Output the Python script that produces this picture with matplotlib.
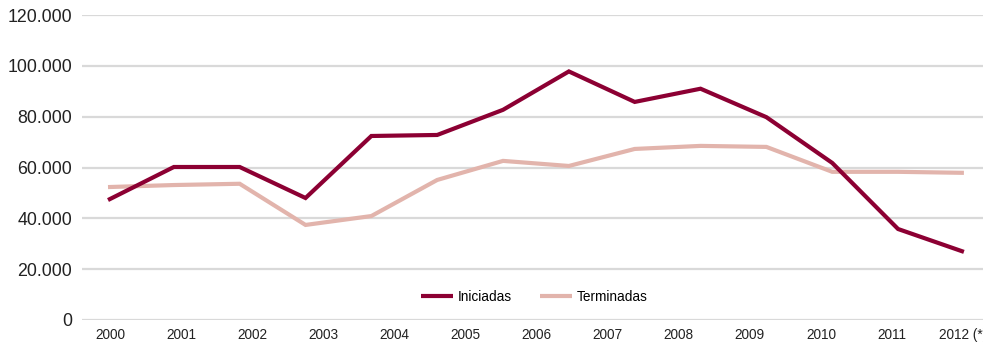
import matplotlib
matplotlib.use("Agg")
import matplotlib.pyplot as plt
from matplotlib.ticker import FuncFormatter
import numpy as np

plt.rcParams['font.family'] = ['Liberation Sans', 'DejaVu Sans']

years = ["2000", "2001", "2002", "2003", "2004", "2005", "2006",
         "2007", "2008", "2009", "2010", "2011", "2012 (*)"]
iniciadas = [47200, 60200, 60200, 48000, 72400, 72800, 82700,
             97800, 85800, 91000, 79800, 61800, 35800, 26800]
terminadas = [52300, 53100, 53600, 37400, 40900, 55100, 62600,
              60600, 67300, 68500, 68100, 58300, 58300, 57900]

W, H = 983, 347
fig = plt.figure(figsize=(W / 100, H / 100), dpi=100)
ax = fig.add_axes([82 / W, 27 / H, 1 - 82 / W, 305 / H])

x = np.arange(len(iniciadas))
ax.plot(x, iniciadas, color="#8C0033", lw=3.0, solid_capstyle="butt",
        solid_joinstyle="miter", label="Iniciadas", zorder=3)
ax.plot(x, terminadas, color="#E2B4AC", lw=3.0, solid_capstyle="butt",
        solid_joinstyle="miter", label="Terminadas", zorder=2)

ax.set_ylim(0, 120000)
ax.set_xlim(-0.395, 13.29)
ax.set_yticks(np.arange(0, 120001, 20000))
ax.yaxis.set_major_formatter(FuncFormatter(lambda v, p: f"{int(v):,}".replace(",", ".")))
ax.tick_params(axis="y", length=0, pad=7, labelsize=12.8, labelcolor="#222222")

tickpos = 0.03 + 1.08 * np.arange(len(years))
ax.set_xticks(tickpos)
ax.set_xticklabels(years)
ax.tick_params(axis="x", length=0, pad=6, labelsize=9.8, labelcolor="#222222")

ax.grid(axis="y", color="#D9D9D9", lw=1.6)
ax.set_axisbelow(True)
for s in ax.spines.values():
    s.set_visible(False)

leg = ax.legend(loc="center", bbox_to_anchor=(0.502, 0.075), ncol=2, frameon=False,
                fontsize=9.8, handlelength=2.4, handletextpad=0.35, columnspacing=2.0)

fig.savefig("out.png", dpi=100)
